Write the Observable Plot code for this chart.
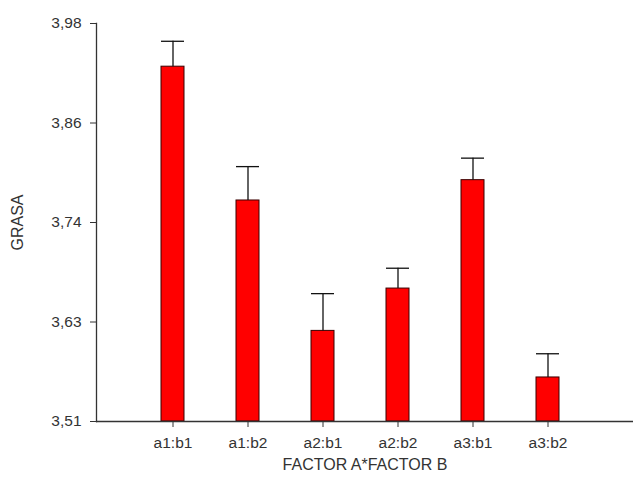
<!DOCTYPE html>
<html>
<head>
<meta charset="utf-8">
<script src="https://cdn.jsdelivr.net/npm/d3@7"></script>
<script src="https://cdn.jsdelivr.net/npm/@observablehq/plot@0.6"></script>
<style>
  html, body { margin: 0; padding: 0; background: #fff; }
  svg { display: block; }
</style>
</head>
<body>
<div id="chart"></div>
<script>
const categories = ["a1:b1", "a1:b2", "a2:b1", "a2:b2", "a3:b1", "a3:b2"];
const means      = [3.929, 3.771, 3.617, 3.667, 3.795, 3.562];
const upper      = [3.959, 3.811, 3.661, 3.691, 3.821, 3.590];
const yTicks      = [3.51, 3.6275, 3.745, 3.8625, 3.98];
const yTickLabels = ["3,51", "3,63", "3,74", "3,86", "3,98"];
const yLabel = "GRASA";
const xLabel = "FACTOR A*FACTOR B";

const data = categories.map((c, i) => ({cat: c, mean: means[i], upper: upper[i]}));
const yMin = yTicks[0], yMax = yTicks[yTicks.length - 1];

const chart = Plot.plot({
  width: 633,
  height: 481,
  marginLeft: 96,
  marginRight: 0,
  marginTop: 23,
  marginBottom: 60,
  style: {fontFamily: "'Liberation Sans', Arial, sans-serif", fontSize: "15px", color: "#333", background: "#fff"},
  x: {domain: categories, range: [96, 624], paddingInner: 0.696, paddingOuter: 0.84},
  y: {domain: [yMin, yMax]},
  marks: [
    Plot.barY(data, {x: "cat", y1: () => yMin, y2: "mean", fill: "#ff0000", stroke: "#3a0000", strokeWidth: 1}),
    Plot.ruleX(data, {x: "cat", y1: "mean", y2: "upper", stroke: "#111", strokeWidth: 1.3}),
    Plot.tickY(data, {x: "cat", y: "upper", stroke: "#111", strokeWidth: 1.3}),
    Plot.ruleY([yMin], {stroke: "#333", strokeWidth: 1.3}),
    Plot.frame({anchor: "left", stroke: "#333", strokeWidth: 1.3}),
    Plot.axisY({ticks: yTicks, tickFormat: (d, i) => yTickLabels[i], tickSize: 6, tickPadding: 9,
      fontSize: 15.5, stroke: "#333", label: null}),
    Plot.axisY({ticks: [], label: yLabel, labelAnchor: "center", labelArrow: "none", labelOffset: 85, fontSize: 16}),
    Plot.axisX({tickSize: 6, tickPadding: 9, fontSize: 15.5, stroke: "#333", label: null}),
    Plot.axisX({ticks: [], label: xLabel, labelAnchor: "center", labelArrow: "none", labelOffset: 48, fontSize: 16})
  ]
});
document.getElementById("chart").appendChild(chart);
</script>
</body>
</html>
